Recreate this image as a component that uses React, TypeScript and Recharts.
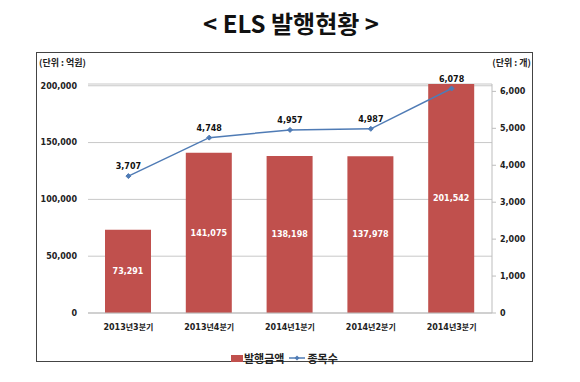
import React from "react";
import {
  ComposedChart,
  Bar,
  Line,
  XAxis,
  YAxis,
  CartesianGrid,
  LabelList,
} from "recharts";

const categories = ["2013년3분기", "2013년4분기", "2014년1분기", "2014년2분기", "2014년3분기"];
const issueAmount = [73291, 141075, 138198, 137978, 201542];
const itemCount = [3707, 4748, 4957, 4987, 6078];
const leftTicks = [0, 50000, 100000, 150000, 200000];
const rightTicks = [0, 1000, 2000, 3000, 4000, 5000, 6000];

const data = categories.map((c, i) => ({
  name: c,
  amount: issueAmount[i],
  count: itemCount[i],
}));

const FONT = "'DejaVu Sans', 'Noto Sans CJK KR', sans-serif";
const KFONT = "'Noto Sans CJK KR', 'DejaVu Sans', sans-serif";
const BAR = "#c0504d";
const LINE = "#4f7bb5";

const fmt = (v: any) => Number(v).toLocaleString("en-US");

const Diamond = (props: any) => {
  const { cx, cy } = props;
  if (cx == null || cy == null) return null;
  const r = 2.5;
  return (
    <polygon
      points={`${cx},${cy - r} ${cx + r},${cy} ${cx},${cy + r} ${cx - r},${cy}`}
      fill={LINE}
      stroke={LINE}
    />
  );
};

export default function App() {
  return (
    <div
      style={{
        position: "absolute",
        left: 0,
        top: 0,
        width: 580,
        height: 382,
        background: "#fff",
        overflow: "hidden",
      }}
    >
      <div
        style={{
          position: "absolute",
          left: 0,
          top: 7,
          width: 582,
          textAlign: "center",
          fontFamily: KFONT,
          fontWeight: 700,
          fontSize: 24,
          lineHeight: "32px",
          color: "#111",
        }}
      >
        &lt; ELS 발행현황 &gt;
      </div>
      <div
        style={{
          position: "absolute",
          left: 36,
          top: 52,
          width: 495,
          height: 308,
          border: "1.5px solid #444",
        }}
      />
      <div
        style={{
          position: "absolute",
          left: 39,
          top: 56,
          fontFamily: KFONT,
          fontWeight: 700,
          fontSize: 9,
          color: "#222",
        }}
      >
        (단위 : 억원)
      </div>
      <div
        style={{
          position: "absolute",
          right: 580 - 531,
          top: 56,
          fontFamily: KFONT,
          fontWeight: 700,
          fontSize: 9,
          color: "#222",
        }}
      >
        (단위 : 개)
      </div>
      <div style={{ position: "absolute", left: 0, top: 0 }}>
        <ComposedChart
          width={580}
          height={382}
          data={data}
          margin={{ top: 84, bottom: 0, left: 0, right: 0 }}
          barCategoryGap="28%"
        >
          <CartesianGrid vertical={false} stroke="#c8c8c8" yAxisId="left" />
          <XAxis
            dataKey="name"
            height={69}
            axisLine={{ stroke: "#bdbdbd" }}
            tickLine={false}
            tickSize={0}
            tickMargin={11}
            tick={{ fontFamily: FONT, fontSize: 8, fontWeight: 700, fill: "#222" }}
            interval={0}
          />
          <YAxis
            yAxisId="left"
            orientation="left"
            width={88}
            domain={[0, 200000]}
            ticks={leftTicks}
            axisLine={false}
            tickLine={false}
            tickSize={0}
            tickMargin={11}
            tickFormatter={fmt}
            tick={{ fontFamily: FONT, fontSize: 8, fontWeight: 700, fill: "#222" }}
          />
          <YAxis
            yAxisId="right"
            orientation="right"
            width={88}
            domain={[0, 6200]}
            ticks={rightTicks}
            axisLine={{ stroke: "#bdbdbd" }}
            tickLine={{ stroke: "#bdbdbd" }}
            tickSize={4}
            tickMargin={4}
            tickFormatter={fmt}
            tick={{ fontFamily: FONT, fontSize: 8, fontWeight: 700, fill: "#222" }}
          />
          <Bar
            yAxisId="left"
            dataKey="amount"
            fill={BAR}
            barSize={46}
            isAnimationActive={false}
          >
            <LabelList
              dataKey="amount"
              position="center"
              formatter={fmt}
              style={{ fontFamily: FONT, fontSize: 8, fontWeight: 700, fill: "#fff" }}
            />
          </Bar>
          <Line
            yAxisId="right"
            dataKey="count"
            stroke={LINE}
            strokeWidth={1.5}
            dot={<Diamond />}
            activeDot={false}
            isAnimationActive={false}
          >
            <LabelList
              dataKey="count"
              position="top"
              offset={7}
              formatter={fmt}
              style={{ fontFamily: FONT, fontSize: 8, fontWeight: 700, fill: "#111" }}
            />
          </Line>
        </ComposedChart>
      </div>
      <div
        style={{
          position: "absolute",
          left: 231,
          top: 351,
          display: "flex",
          alignItems: "center",
          fontFamily: KFONT,
          fontWeight: 700,
          fontSize: 11,
          color: "#222",
          lineHeight: "14px",
        }}
      >
        <span style={{ display: "inline-block", width: 12, height: 7, background: BAR, marginRight: 1 }} />
        <span>발행금액</span>
        <svg width={18} height={8} style={{ marginLeft: 4, marginRight: 1 }}>
          <line x1={1} y1={4} x2={17} y2={4} stroke={LINE} strokeWidth={1.5} />
          <polygon points="9,1.5 11.5,4 9,6.5 6.5,4" fill={LINE} />
        </svg>
        <span>종목수</span>
      </div>
    </div>
  );
}
